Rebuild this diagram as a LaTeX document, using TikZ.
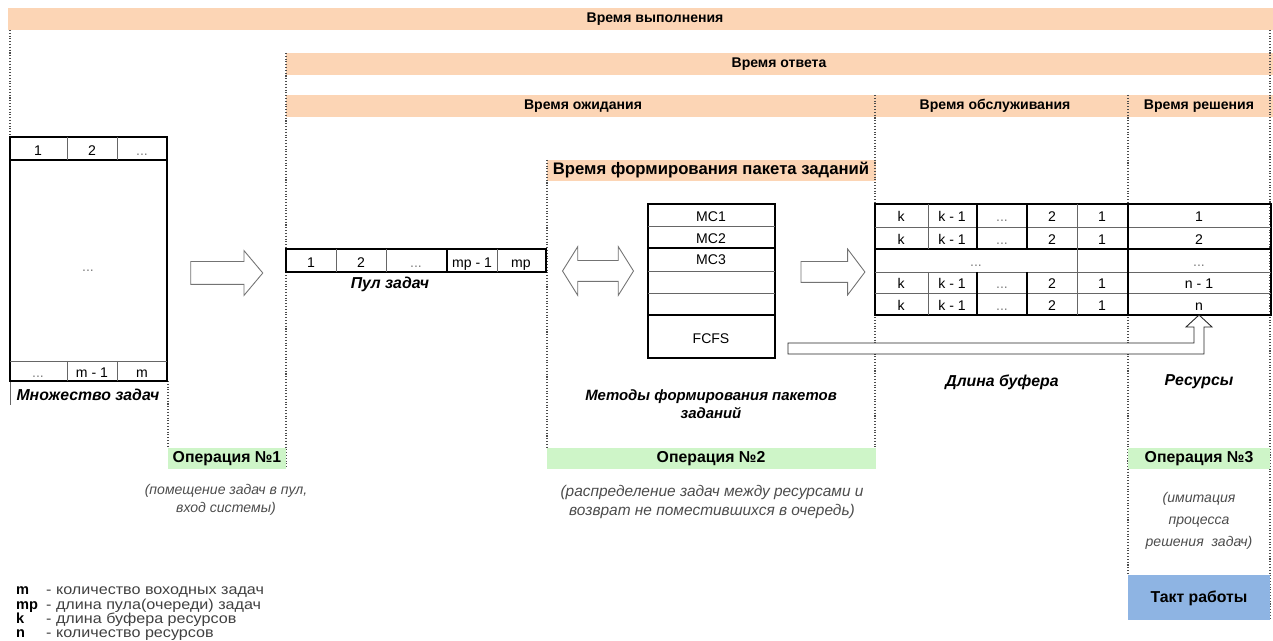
\documentclass[tikz,border=0pt]{standalone}
\usepackage{fontspec}
\setmainfont{Liberation Sans}
\newfontfamily\legfont[FakeStretch=1.12]{Liberation Sans}
\usetikzlibrary{shapes.arrows, positioning}
\definecolor{peach}{RGB}{252,213,181}
\definecolor{mint}{RGB}{206,245,200}
\definecolor{skyblue}{RGB}{142,180,227}

\begin{document}
\begin{tikzpicture}[x=0.02cm, y=-0.02cm,
        font=\fontsize{8}{9.5}\selectfont,
        bar/.style={fill=peach},
        opbar/.style={fill=mint},
        head/.style={font=\fontsize{8}{9.5}\selectfont\bfseries},
        ophead/.style={font=\fontsize{9}{10}\selectfont\bfseries},
        cell/.style={inner sep=1pt, text height=1.6ex, text depth=0.3ex},
        faint/.style={cell, text=gray},
        tag/.style={font=\fontsize{9}{10}\selectfont\bfseries\itshape},
        note/.style={font=\fontsize{8}{10.5}\selectfont\itshape, align=center, text=black!70},
        grid/.style={line width=0.3pt, black!60},
        frame/.style={line width=1pt},
        guide/.style={densely dotted, line width=0.6pt, black!70},
        hollow/.style={draw=black!55, fill=white, line width=0.5pt, inner xsep=0pt},
        legkey/.style={anchor=base west, font=\fontsize{8.3}{9}\selectfont\bfseries},
        legtext/.style={anchor=base west, text=black!75, font=\legfont\fontsize{8.2}{9}\selectfont}
    ]
        \useasboundingbox (0,0) rectangle (1273,641);

        % Time bars
        \fill[bar] (8,8) rectangle (1273,30);
        \node[head] (exec) at (655,19) {Время выполнения};
        \fill[bar] (286,53) rectangle (1273,75);
        \node[head] (resp) at (779,64) {Время ответа};
        \fill[bar] (286,95) rectangle (1273,117);
        \node[head] (wait) at (583,106) {Время ожидания};
        \node[head] (serv) at (995,106) {Время обслуживания};
        \node[head] (solve) at (1199,106) {Время решения};
        \fill[bar] (547,160) rectangle (876,181);
        \node[head, font=\fontsize{9.5}{10}\selectfont\bfseries] (form) at (711,170) {Время формирования пакета заданий};

        % Dotted guides
        \draw[guide] (10,30) -- (10,137);
        \draw[guide] (1270,30) -- (1270,620);
        \draw[guide] (286,53) -- (286,469);
        \draw[guide] (875,95) -- (875,448);
        \draw[guide] (1128,95) -- (1128,575);
        \draw[guide] (547,160) -- (547,448);
        \draw[guide] (168,381) -- (168,448);
        \draw[grid] (10,381) -- (10,405);

        % Task set
        \draw[frame] (10,137) rectangle (167,381);
        \draw[frame] (10,160) -- (167,160);
        \draw[grid] (10,361) -- (167,361);
        \draw[grid] (67,137) -- (67,160) (117,137) -- (117,160);
        \draw[grid] (67,361) -- (67,381) (117,361) -- (117,381);
        \node[cell] (s1) at (38,149) {1};
        \node[cell] (s2) at (92,149) {2};
        \node[faint] (s3) at (142,149) {...};
        \node[faint] (smid) at (88,265) {...};
        \node[faint] (s4) at (38,371) {...};
        \node[cell] (s5) at (92,371) {m - 1};
        \node[cell] (s6) at (142,371) {m};
        \node[tag] (setlbl) at (88,395) {Множество задач};

        % Task pool
        \draw[frame] (286,249) rectangle (546,272);
        \draw[grid] (336,249) -- (336,272) (386,249) -- (386,272) (497,249) -- (497,272);
        \draw[frame] (447,249) -- (447,272);
        \node[cell] (p1) at (311,261) {1};
        \node[cell] (p2) at (361,261) {2};
        \node[faint] (p3) at (416,261) {...};
        \node[cell] (p4) at (472,261) {mp - 1};
        \node[cell] (p5) at (521,261) {mp};
        \node[tag] (poollbl) at (390,284) {Пул задач};

        % Batch forming methods
        \draw[frame] (648,204) rectangle (775,358);
        \draw[grid] (648,226) -- (775,226) (648,271) -- (775,271) (648,293) -- (775,293);
        \draw[frame] (648,248) -- (775,248) (648,315) -- (775,315);
        \node[cell] (mc1) at (711,215) {MC1};
        \node[cell] (mc2) at (711,237) {MC2};
        \node[cell] (mc3) at (711,258) {MC3};
        \node[cell] (fcfs) at (711,337) {FCFS};
        \node[tag, font=\fontsize{8.5}{10.5}\selectfont\bfseries\itshape, align=center] (methlbl) at (711,404) {Методы формирования пакетов\\ заданий};

        % Buffer and resources
        \draw[frame] (875,204) rectangle (1271,315);
        \draw[grid] (875,227) -- (1271,227) (875,272) -- (1271,272) (875,293) -- (1271,293);
        \draw[frame] (875,249) -- (1271,249) (1128,204) -- (1128,315);
        \draw[grid] (1077,204) -- (1077,315);
        \draw[grid] (928,204) -- (928,249) (928,272) -- (928,315);
        \draw[line width=0.7pt] (977,204) -- (977,249) (977,272) -- (977,315);
        \draw[line width=0.7pt] (1027,204) -- (1027,249) (1027,272) -- (1027,315);
        \foreach \r/\y/\n in {1/215/1, 2/238/2, 4/282/n - 1, 5/304/n} {
            \node[cell] (bk\r) at (901,\y) {k};
            \node[cell] (bkm\r) at (952,\y) {k - 1};
            \node[faint] (bd\r) at (1002,\y) {...};
            \node[cell] (bb\r) at (1052,\y) {2};
            \node[cell] (ba\r) at (1102,\y) {1};
            \node[cell] (res\r) at (1199,\y) {\n};
        }
        \node[faint] (bd3) at (976,260) {...};
        \node[faint] (res3) at (1199,260) {...};
        \node[tag] (buflbl) at (1002,382) {Длина буфера};
        \node[tag] (reslbl) at (1199,382) {Ресурсы};

        % Block arrows
        \node[hollow, single arrow, inner ysep=0.22cm, minimum height=1.44cm,
            single arrow head extend=0.22cm, single arrow tip angle=100] (arr1) at (222,273) {};
        \node[hollow, double arrow, inner ysep=0.2cm, minimum height=1.42cm,
            double arrow head extend=0.28cm, double arrow tip angle=116] (arr2) at (598,271) {};
        \node[hollow, single arrow, inner ysep=0.2cm, minimum height=1.28cm,
            single arrow head extend=0.25cm, single arrow tip angle=106] (arr3) at (829,272) {};

        % Return arrow from FCFS to the resources
        \coordinate (ret) at (788,343);
        \draw[hollow, draw=black!85] (ret) -- (1194,343) -- (1194,327) -- (1186,327) -- (1199,315)
            -- (1212,327) -- (1204,327) -- (1204,354) -- (788,354) -- cycle;

        % Operations
        \fill[opbar] (168,448) rectangle (286,469);
        \node[ophead] (op1) at (227,459) {Операция №1};
        \fill[opbar] (547,448) rectangle (876,469);
        \node[ophead] (op2) at (711,459) {Операция №2};
        \fill[opbar] (1128,448) rectangle (1270,469);
        \node[ophead] (op3) at (1199,459) {Операция №3};
        \node[note] (op1note) at (226,500) {(помещение задач в пул,\\ вход системы)};
        \node[note, font=\fontsize{8.8}{10.5}\selectfont\itshape] (op2note) at (712,502) {(распределение задач между ресурсами и\\ возврат не поместившихся в очередь)};
        \node[note, font=\fontsize{8}{12.5}\selectfont\itshape] (op3note) at (1199,521) {(имитация\\ процесса\\ решения\ \ задач)};
        \fill[skyblue] (1128,575) rectangle (1270,620);
        \node[ophead] (tact) at (1199,598) {Такт работы};

        % Legend
        \node[legkey] (lm) at (10,594) {m};
        \node[legkey] (lmp) at (10,609) {mp};
        \node[legkey] (lk) at (10,623) {k};
        \node[legkey] (ln) at (10,637) {n};
        \node[legtext] (lmt) at (40,594) {- количество воходных задач};
        \node[legtext] (lmpt) at (40,609) {- длина пула(очереди) задач};
        \node[legtext] (lkt) at (40,623) {- длина буфера ресурсов};
        \node[legtext] (lnt) at (40,637) {- количество ресурсов};
\end{tikzpicture}
\end{document}
